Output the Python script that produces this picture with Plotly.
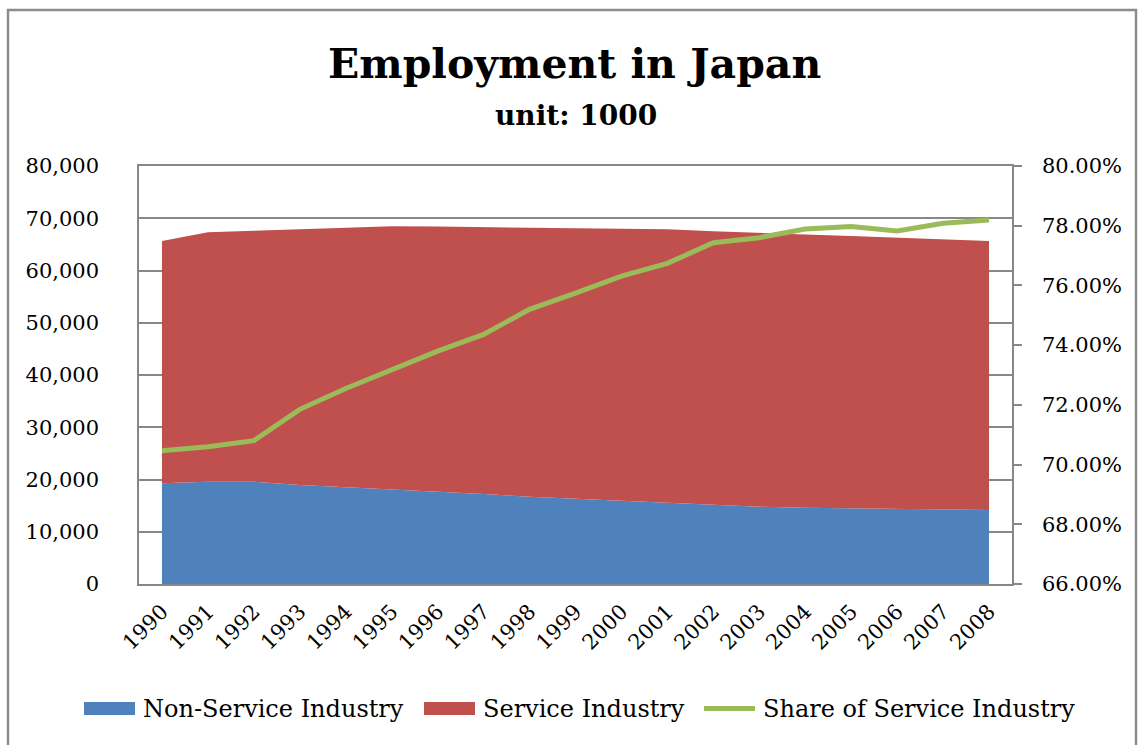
import plotly.graph_objects as go

# Employment in Japan, thousands of persons
years = [str(y) for y in range(1990, 2009)]
non_service = [19270, 19590, 19590, 18950, 18500, 18120, 17670, 17230, 16710, 16330,
               15950, 15570, 15060, 14800, 14610, 14480, 14480, 14350, 14160]
service = [46380, 47710, 48010, 48950, 49700, 50340, 50730, 51070, 51490, 51820,
           52150, 52330, 52440, 52350, 52290, 52120, 51820, 51650, 51490]
service_share = [0.7046, 0.7060, 0.7080, 0.7185, 0.7255, 0.7317, 0.7380, 0.7436, 0.7520, 0.7574,
                 0.7631, 0.7674, 0.7743, 0.7760, 0.7789, 0.7797, 0.7782, 0.7808, 0.7819]

legend_labels = ["Non-Service Industry", "Service Industry", "Share of Service Industry"]

BLUE = "#4F81BD"
RED = "#C0504D"
GREEN = "#9BBB59"
GRID = "#878787"
FONT = "DejaVu Serif"

W, H = 1142, 745
L, R, T, B = 139, 1012, 166, 584  # plot area in pixels


def px(x):
    return (x - L) / (R - L)


def py(y):
    return (B - y) / (B - T)


fig = go.Figure()
fig.add_trace(go.Scatter(
    x=years, y=non_service, name=legend_labels[0], stackgroup="emp",
    mode="lines", line=dict(width=0, color=BLUE), fillcolor=BLUE,
))
fig.add_trace(go.Scatter(
    x=years, y=service, name=legend_labels[1], stackgroup="emp",
    mode="lines", line=dict(width=0, color=RED), fillcolor=RED,
))
fig.add_trace(go.Scatter(
    x=years, y=service_share, name=legend_labels[2], yaxis="y2",
    mode="lines", line=dict(width=5, color=GREEN),
))

shapes = [
    # chart frame
    dict(type="rect", xref="paper", yref="paper",
         x0=px(8), x1=px(1136), y0=py(760), y1=py(10),
         line=dict(color="#8C8C8C", width=2.5), layer="below"),
    # legend swatches
    dict(type="rect", xref="paper", yref="paper",
         x0=px(84), x1=px(135), y0=py(715), y1=py(702),
         fillcolor=BLUE, line=dict(width=0)),
    dict(type="rect", xref="paper", yref="paper",
         x0=px(424), x1=px(475), y0=py(715), y1=py(702),
         fillcolor=RED, line=dict(width=0)),
    dict(type="line", xref="paper", yref="paper",
         x0=px(704), x1=px(755), y0=py(708.5), y1=py(708.5),
         line=dict(color=GREEN, width=5)),
]

annotations = [
    dict(text="<b>Employment in Japan</b>", xref="paper", yref="paper",
         x=px(574), y=py(64), xanchor="center", yanchor="middle", showarrow=False,
         font=dict(family=FONT, size=41, color="black")),
    dict(text="<b>unit: 1000</b>", xref="paper", yref="paper",
         x=px(576), y=py(115), xanchor="center", yanchor="middle", showarrow=False,
         font=dict(family=FONT, size=28, color="black")),
]
for label, x0 in zip(legend_labels, [141, 481, 761]):
    annotations.append(dict(
        text=label, xref="paper", yref="paper", x=px(x0), y=py(709),
        xanchor="left", yanchor="middle", showarrow=False,
        font=dict(family=FONT, size=24, color="black")))

fig.update_layout(
    width=W, height=H, autosize=False,
    margin=dict(l=L, r=W - R, t=T, b=H - B, pad=0),
    paper_bgcolor="white", plot_bgcolor="white",
    showlegend=False,
    font=dict(family=FONT, size=21, color="black"),
    shapes=shapes,
    annotations=annotations,
    xaxis=dict(
        type="category", range=[-0.5, 18.5],
        showgrid=False, showline=True, linecolor=GRID, linewidth=2, mirror=True,
        ticks="", tickangle=-45, ticklabelstandoff=5,
        tickfont=dict(family=FONT, size=21, color="black"),
    ),
    yaxis=dict(
        range=[0, 80000], dtick=10000, tickformat=",",
        showgrid=True, gridcolor=GRID, gridwidth=1.5,
        showline=True, linecolor=GRID, linewidth=1.5,
        ticks="", ticklabelstandoff=34, zeroline=False,
        tickfont=dict(family=FONT, size=21, color="black"),
    ),
    yaxis2=dict(
        overlaying="y", side="right",
        range=[0.66, 0.80], dtick=0.02, tickformat=".2%",
        showgrid=False, showline=True, linecolor=GRID, linewidth=1.5,
        ticks="outside", ticklen=8, tickwidth=1.5, tickcolor=GRID,
        ticklabelstandoff=16, zeroline=False,
        tickfont=dict(family=FONT, size=21, color="black"),
    ),
)

fig.write_html("out.html")
